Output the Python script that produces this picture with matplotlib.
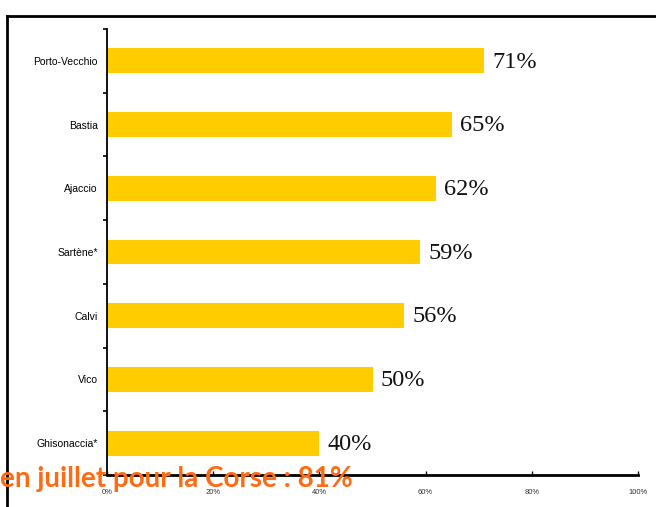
import matplotlib
matplotlib.use("Agg")
import matplotlib.pyplot as plt
from matplotlib.lines import Line2D

categories = ["Porto-Vecchio", "Bastia", "Ajaccio", "Sartène*", "Calvi", "Vico", "Ghisonaccia*"]
values = [71, 65, 62, 59, 56, 50, 40]
xticks = [0, 20, 40, 60, 80, 100]
xtick_labels = ["0%", "20%", "40%", "60%", "80%", "100%"]
note = "en juillet pour la Corse : 81%"

W, H = 656, 507
fig = plt.figure(figsize=(W / 100, H / 100), dpi=100)
fig.patch.set_facecolor("white")

ax = fig.add_axes([107 / W, 1 - 475 / H, (638 - 107) / W, (475 - 29) / H])
ypos = list(range(len(categories)))
ax.barh(ypos, values, height=0.39, color="#FFCC00", edgecolor="none")
ax.set_ylim(6.48, -0.47)
ax.set_xlim(0, 100)

for y, v in zip(ypos, values):
    ax.text(v + 1.5, y + 0.02, f"{v}%", va="center", ha="left",
            fontsize=17.5, family="Liberation Serif", color="#111111")

ax.set_yticks(ypos)
ax.set_yticklabels(categories, fontsize=7.5, family="Liberation Sans")
ax.tick_params(axis="y", which="major", length=0, pad=6.5)
ax.set_yticks([i + 0.5 for i in range(-1, len(categories))], minor=True)
ax.tick_params(axis="y", which="minor", length=3, width=1.2, direction="out")

ax.set_xticks(xticks)
ax.set_xticklabels(xtick_labels, fontsize=5.5, family="Liberation Sans", color="#333333")
ax.tick_params(axis="x", length=3, width=1, direction="in", pad=10)

for s in ["top", "right"]:
    ax.spines[s].set_visible(False)
ax.spines["left"].set_linewidth(1.3)
ax.spines["bottom"].set_linewidth(2)
ax.spines["bottom"].set_bounds(0, 100)

# outer frame lines
fig.add_artist(Line2D([7 / W, 1], [1 - 16 / H, 1 - 16 / H], transform=fig.transFigure,
                      color="black", lw=2))
fig.add_artist(Line2D([7 / W, 7 / W], [0, 1 - 16 / H], transform=fig.transFigure,
                      color="black", lw=2))

fig.text(0 / W, 1 - 487 / H, note, fontsize=20, family="Lato", fontweight="bold",
         color="#FF6A13", ha="left", va="baseline")

fig.savefig("out.png", dpi=100, facecolor="white")
